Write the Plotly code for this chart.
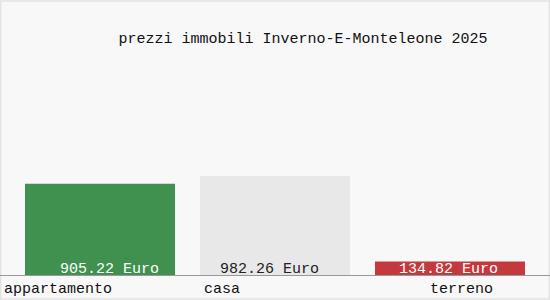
import plotly.graph_objects as go

categories = ["appartamento", "casa", "terreno"]
values = [905.22, 982.26, 134.82]
value_labels = ["905.22 Euro", "982.26 Euro", "134.82 Euro"]
bar_colors = ["#40914f", "#e8e8e8", "#c4393e"]
label_colors = ["#ffffff", "#222222", "#ffffff"]
title_text = "prezzi immobili Inverno-E-Monteleone 2025"

FONT = "Liberation Mono, Courier New, monospace"

fig = go.Figure()
fig.add_trace(go.Bar(
    x=list(range(len(categories))),
    y=values,
    marker=dict(color=bar_colors, line=dict(width=0)),
    width=150 / 175,
    hoverinfo="skip",
))

# value labels at bar bottoms
val_shift = [9, -6, -2]
for i, (lab, col) in enumerate(zip(value_labels, label_colors)):
    fig.add_annotation(x=i, y=0, xref="x", yref="y", text=lab, showarrow=False,
                       yanchor="bottom", yshift=-5, xshift=val_shift[i],
                       font=dict(family=FONT, size=15, color=col))

# category labels below axis
cat_shift = [-42, -53, 11]
for i, c in enumerate(categories):
    fig.add_annotation(x=i, y=0, xref="x", yref="y", text=c, showarrow=False,
                       yanchor="middle", yshift=-14, xshift=cat_shift[i],
                       font=dict(family=FONT, size=15, color="#111111"))

# outer faint border
fig.add_shape(type="rect", xref="paper", yref="paper",
              x0=0.001, x1=0.999, y0=-24 / 215, y1=1 + 59 / 215,
              line=dict(color="#e2e2e2", width=1.5), fillcolor="rgba(0,0,0,0)", layer="below")

fig.update_layout(
    width=550, height=300,
    margin=dict(l=0, r=0, t=60, b=25),
    paper_bgcolor="#f8f8f8", plot_bgcolor="#f8f8f8",
    showlegend=False,
    title=dict(text=title_text, x=303 / 550, xanchor="center", xref="container",
               y=1 - 38 / 300, yref="container", yanchor="middle",
               font=dict(family=FONT, size=15, color="#111111")),
    xaxis=dict(range=[-100 / 175, 450 / 175], showgrid=False, zeroline=False,
               showticklabels=False, ticks="", showline=True, linecolor="#999999",
               linewidth=1, fixedrange=True),
    yaxis=dict(range=[0, 2133], showgrid=False, zeroline=False, showticklabels=False,
               ticks="", showline=False, fixedrange=True),
)

fig.write_html("out.html")
